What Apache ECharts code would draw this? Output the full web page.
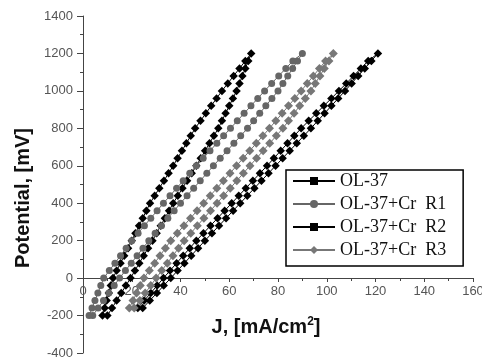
<!DOCTYPE html>
<html><head><meta charset="utf-8">
<script src="https://cdn.jsdelivr.net/npm/echarts@6/dist/echarts.min.js"></script>
<style>html,body{margin:0;padding:0;background:#fff}#c{width:482px;height:358px}</style>
</head><body><div id="c"></div>
<script>
// Potential grids (mV)
var potentials = [-200,-160,-120,-80,-40,0,40,80,120,160,200,240,280,320,360,400,440,480,520,560,600,640,680,720,760,800,840,880,920,960,1000,1040,1080,1120,1160,1200];
var potentialsHigh = [-160,-120,-80,-40,0,40,80,120,160,200,240,280,320,360,400,440,480,520,560,600,640,680,720,760,800,840,880,920,960,1000,1040,1080,1120,1160,1200];
var seriesNames = ['OL-37','OL-37+Cr  R1','OL-37+Cr  R2','OL-37+Cr  R3'];
var xTicks = [0,20,40,60,80,100,120,140,160];
var yTicks = [-400,-200,0,200,400,600,800,1000,1200,1400];
// Current density J (mA/cm2), anodic (up) and return (down) branches
var ol37Up   = [10,11.9,13.8,15.7,17.6,19.5,21.3,23.1,24.9,26.7,28.5,30.2,31.9,33.6,35.3,37,38.9,40.8,42.7,44.6,46.5,48.3,50.1,51.9,53.7,55.5,57,58.5,60,61.5,63,64.2,65.4,66.6,67.8,69];
var ol37Down = [8,8.9,9.7,10.6,11.4,12.3,13.8,15.4,16.9,18.5,20,21.5,23,24.5,26,27.5,29.4,31.3,33.2,35.1,37,38.8,40.6,42.4,44.2,46,48.2,50.4,52.6,54.8,57,59.4,61.8,64.2,66.6,69];
var r1Up   = [4,6.2,8.4,10.6,12.8,15,17.4,19.8,22.2,24.6,27,29.6,32.2,34.8,37.4,40,42.7,45.4,48.1,50.8,53.5,56.3,59.1,61.9,64.7,67.5,70,72.5,75,77.5,80,82,84,86,88,90];
var r1Down = [2.5,3.7,4.9,6.1,7.3,8.5,10.8,13.1,15.4,17.7,20,22.6,25.2,27.8,30.4,33,35.7,38.4,41.1,43.8,46.5,49.3,52.1,54.9,57.7,60.5,63.3,66.1,68.9,71.7,74.5,77.4,80.3,83.2,86.1,90];
var r2Up   = [24.5,27.4,30.3,33.1,36,38.8,41.6,44.4,47.2,50,52.9,55.8,58.7,61.6,64.5,67.4,70.3,73.2,76.1,79,81.9,84.8,87.7,90.6,93.5,96.3,99.1,101.9,104.7,107.5,110.2,112.9,115.6,118.3,121];
var r2Down = [22.5,25.1,27.8,30.4,33,35.7,38.4,41.1,43.8,46.5,49.4,52.3,55.2,58.1,61,63.9,66.8,69.7,72.6,75.5,78.3,81.1,83.9,86.7,89.5,92.6,95.7,98.8,101.9,105,108,111,114,117,121];
var r3Up   = [21,23.3,25.5,27.8,30,32.3,34.6,36.9,39.2,41.5,44.2,46.9,49.6,52.3,55,57.7,60.4,63.1,65.8,68.5,71.2,73.9,76.6,79.3,82,84.3,86.6,88.9,91.2,93.5,95.3,97.2,99,100.9,102.7];
var r3Down = [19,20.5,22,23.5,25,27.2,29.4,31.6,33.8,36,38.7,41.4,44.1,46.8,49.5,52.2,54.9,57.6,60.3,63,65.7,68.4,71.1,73.8,76.5,79.1,81.7,84.3,86.9,89.5,92,94.5,97,99.5,102.7];

function loop(pot, up, down){
  var d = [];
  for (var i=0;i<pot.length;i++) d.push([up[i], pot[i]]);
  for (var j=pot.length-2;j>=0;j--) d.push([down[j], pot[j]]);
  return d;
}
var FONT = 'Liberation Sans, Arial, sans-serif';
function mk(name, data, color, symbol, size, rot){
  return {name:name, type:'line', data:data, symbol:symbol, symbolSize:size, symbolRotate:rot||0,
    showAllSymbol:true, lineStyle:{color:color,width:1}, itemStyle:{color:color}, color:color, animation:false};
}
var chart = echarts.init(document.getElementById('c'));
chart.setOption({
  animation:false,
  grid:{left:83, right:9, top:16, bottom:5, containLabel:false, outerBoundsMode:'none'},
  xAxis:{type:'value', min:xTicks[0], max:xTicks[xTicks.length-1], interval:20,
    position:'bottom', offset:-75,
    axisLine:{onZero:false, lineStyle:{color:'#444', width:1}},
    axisTick:{show:true, length:4, inside:false, lineStyle:{color:'#444'}},
    minorTick:{show:true, splitNumber:2, length:3, lineStyle:{color:'#444'}},
    splitLine:{show:false},
    axisLabel:{fontFamily:FONT, fontSize:13, color:'#555', margin:7, formatter:function(v){return String(v);}},
    name:'{b|J, [mA/cm}{s|2}{b|]}', nameLocation:'middle', nameGap:38,
    nameTextStyle:{padding:[0,24,0,0], rich:{
      b:{fontFamily:FONT, fontSize:20, fontWeight:'bold', color:'#111'},
      s:{fontFamily:FONT, fontSize:12, fontWeight:'bold', color:'#111', padding:[0,0,10,0]}}}
  },
  yAxis:{type:'value', min:yTicks[0], max:yTicks[yTicks.length-1], interval:200,
    axisLine:{show:true, onZero:false, lineStyle:{color:'#444', width:1}},
    axisTick:{show:true, length:6, lineStyle:{color:'#444'}},
    minorTick:{show:true, splitNumber:2, length:3, lineStyle:{color:'#444'}},
    splitLine:{show:false},
    axisLabel:{fontFamily:FONT, fontSize:13, color:'#555', margin:10, formatter:function(v){return String(v);}},
    name:'Potential, [mV]', nameLocation:'middle', nameGap:50, nameRotate:90,
    nameTextStyle:{fontFamily:FONT, fontSize:20, fontWeight:'bold', color:'#111', padding:[0,27,0,0]}
  },
  legend:{orient:'vertical', left:286, top:170, data:seriesNames,
    itemWidth:42, itemHeight:10, itemGap:3, symbolRotate:0,
    borderColor:'#000', borderWidth:1.5, padding:[1,17,6,6], backgroundColor:'#fff',
    textStyle:{fontFamily:'Liberation Serif, Times New Roman, serif', fontSize:18, color:'#111', lineHeight:20}},
  series:[
    mk(seriesNames[0], loop(potentials, ol37Up, ol37Down), '#000', 'rect', 6, 45),
    mk(seriesNames[1], loop(potentials, r1Up, r1Down), '#666', 'circle', 7),
    mk(seriesNames[2], loop(potentialsHigh, r2Up, r2Down), '#000', 'rect', 6, 45),
    mk(seriesNames[3], loop(potentialsHigh, r3Up, r3Down), '#777', 'diamond', 9)
  ]
});
</script></body></html>
